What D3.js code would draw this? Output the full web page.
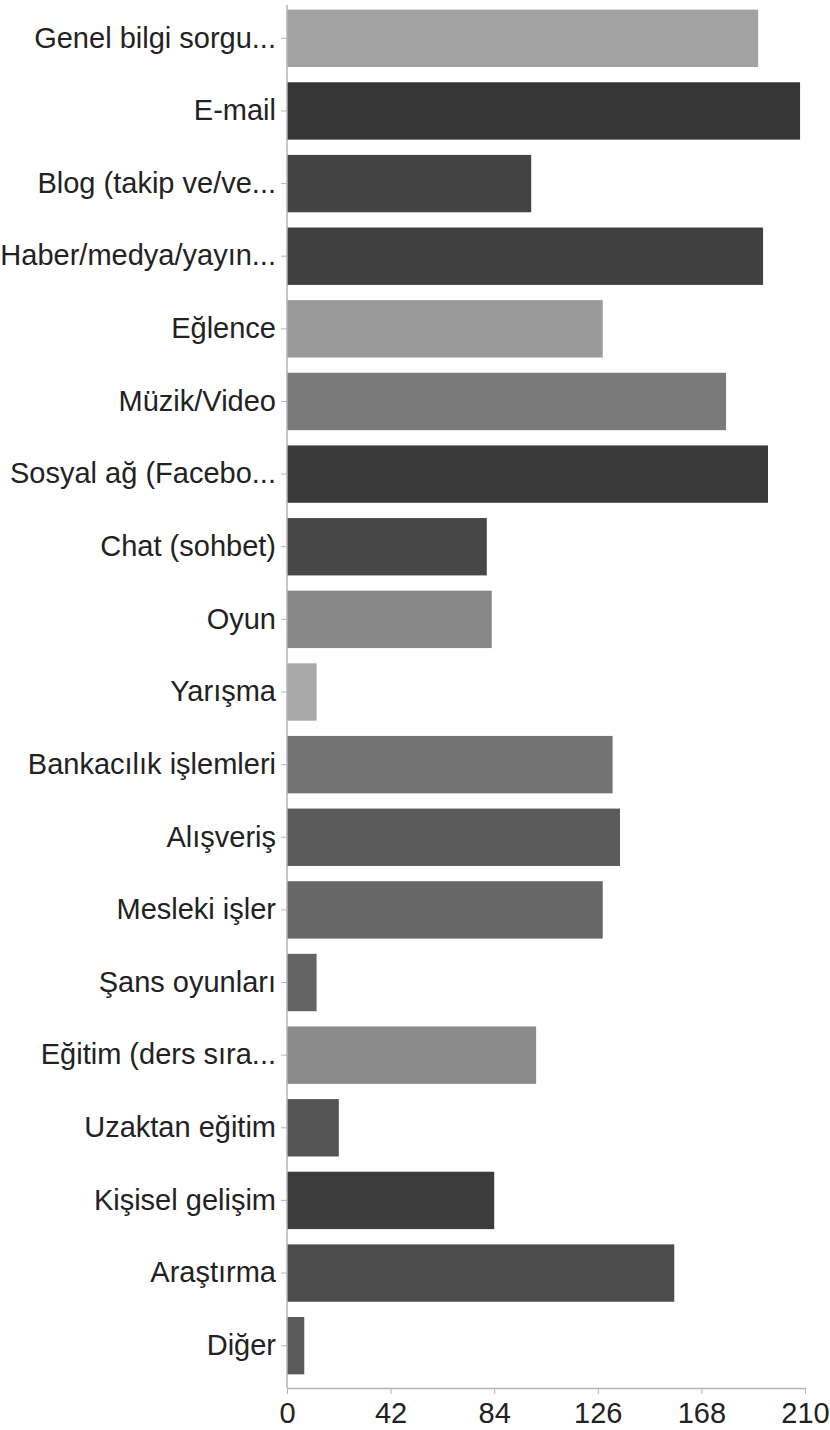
<!DOCTYPE html>
<html>
<head>
<meta charset="utf-8">
<script src="https://cdn.jsdelivr.net/npm/d3@7"></script>
<style>
  body { margin: 0; background: #fff; }
  text { font-family: "Liberation Sans", Arial, Helvetica, sans-serif; }
</style>
</head>
<body>
<div id="chart"></div>
<script>
// categories, values and bar shades
const categories = [
  "Genel bilgi sorgu...", "E-mail", "Blog (takip ve/ve...", "Haber/medya/yayın...",
  "Eğlence", "Müzik/Video", "Sosyal ağ (Facebo...", "Chat (sohbet)", "Oyun",
  "Yarışma", "Bankacılık işlemleri", "Alışveriş", "Mesleki işler", "Şans oyunları",
  "Eğitim (ders sıra...", "Uzaktan eğitim", "Kişisel gelişim", "Araştırma", "Diğer"
];
const values = [191, 208, 99, 193, 128, 178, 195, 81, 83, 12, 132, 135, 128, 12, 101, 21, 84, 157, 7];
const shades = [
  "#a2a2a2", "#363636", "#434343", "#404040", "#9a9a9a", "#7a7a7a", "#3a3a3a",
  "#474747", "#878787", "#a8a8a8", "#737373", "#5a5a5a", "#676767", "#646464",
  "#8a8a8a", "#545454", "#3c3c3c", "#4d4d4d", "#5a5a5a"
];
const xTicks = [0, 42, 84, 126, 168, 210];

const width = 830, height = 1430;
const margin = {top: 2, left: 287, right: 25, bottom: 42};
const axisY = 1388;

const data = categories.map((c, i) => ({name: c, value: values[i], color: shades[i]}));

const svg = d3.select("#chart")
  .append("svg")
  .attr("width", width)
  .attr("height", height);

const xScale = d3.scaleLinear()
  .domain([0, 210])
  .range([margin.left, width - margin.right]);

const yScale = d3.scaleBand()
  .domain(categories)
  .range([margin.top, 1382])
  .paddingInner(0.21)
  .paddingOuter(0.105);

// bars
svg.selectAll(".bar")
  .data(data)
  .enter()
  .append("rect")
  .attr("class", "bar")
  .attr("x", xScale(0))
  .attr("y", d => yScale(d.name))
  .attr("width", d => xScale(d.value) - xScale(0))
  .attr("height", yScale.bandwidth())
  .attr("fill", d => d.color);

// y axis
const yAxis = svg.append("g")
  .attr("transform", "translate(" + xScale(0) + ",0)")
  .call(d3.axisLeft(yScale).tickSize(6).tickSizeOuter(0).tickPadding(5));
yAxis.select(".domain").remove();
yAxis.selectAll("line").attr("stroke", "#b5b5b5");
yAxis.selectAll("text")
  .attr("font-size", 29)
  .attr("fill", "#222");

svg.append("line")
  .attr("x1", xScale(0)).attr("x2", xScale(0))
  .attr("y1", 5).attr("y2", axisY)
  .attr("stroke", "#b5b5b5")
  .attr("stroke-width", 1.5);

// x axis
const xAxis = svg.append("g")
  .attr("transform", "translate(0," + axisY + ")")
  .call(d3.axisBottom(xScale).tickValues(xTicks).tickSize(6).tickSizeOuter(0).tickPadding(8));
xAxis.select(".domain").attr("stroke", "#b5b5b5").attr("stroke-width", 1.5);
xAxis.selectAll("line").attr("stroke", "#b5b5b5");
xAxis.selectAll("text")
  .attr("font-size", 29)
  .attr("fill", "#222");
</script>
</body>
</html>
